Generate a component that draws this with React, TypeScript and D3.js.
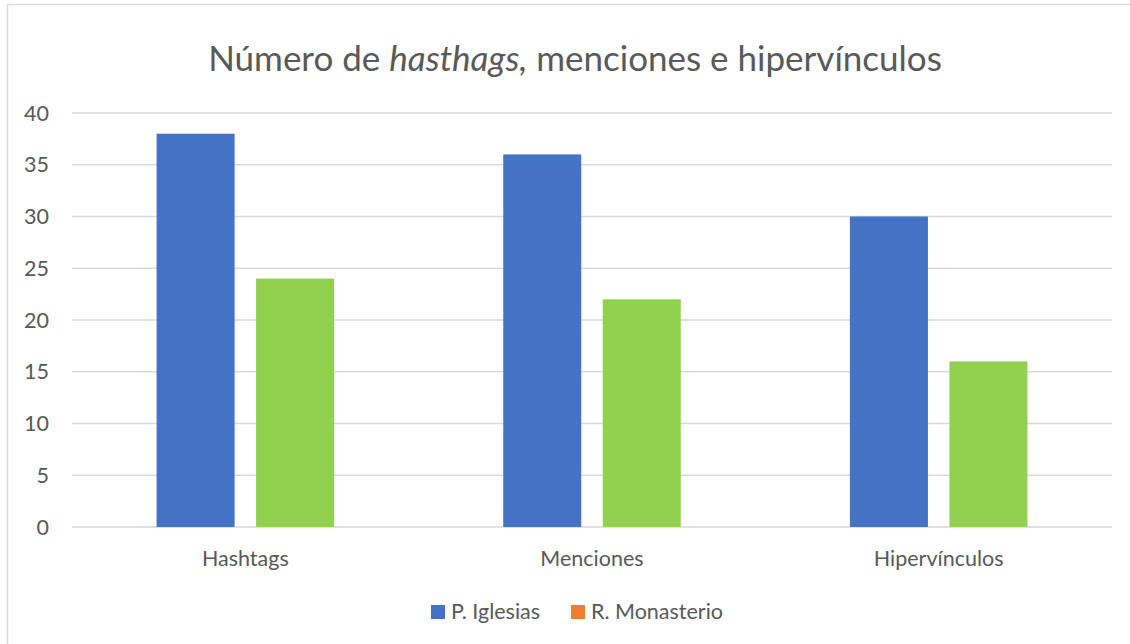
import React from "react";
import * as d3 from "d3";

const categories = ["Hashtags", "Menciones", "Hipervínculos"];
const seriesNames = ["P. Iglesias", "R. Monasterio"];
const iglesias = [38, 36, 30];
const monasterio = [24, 22, 16];
const yTicks = [0, 5, 10, 15, 20, 25, 30, 35, 40];

const W = 1130;
const H = 644;
const FONT = "Lato, 'Open Sans', sans-serif";
const TEXT = "#595959";
const barColors = ["#4472C4", "#92D050"];
const legendColors = ["#4472C4", "#ED7D31"];

export default function App() {
  const y = d3.scaleLinear().domain([0, 40]).range([527, 113]);
  const x0 = d3.scaleBand<string>().domain(categories).range([72, 1112]).paddingInner(0).paddingOuter(0);
  const x1 = d3
    .scaleBand<string>()
    .domain(seriesNames)
    .range([0, x0.bandwidth()])
    .paddingInner(0.216)
    .paddingOuter(0.85);
  const values = [iglesias, monasterio];

  return (
    <svg
      width={W}
      height={H}
      style={{ position: "fixed", left: 0, top: 0, background: "#fff" }}
      fontFamily={FONT}
    >
      <rect x={7.5} y={4.5} width={W + 20} height={H + 20} fill="#fff" stroke="#D9D9D9" strokeWidth={1.5} />
      <text x={575} y={71} textAnchor="middle" fontSize={35} fill={TEXT}>
        Número de <tspan fontStyle="italic">hasthags,</tspan> menciones e hipervínculos
      </text>
      {yTicks.map((t) => (
        <g key={t}>
          <line x1={72} x2={1112} y1={y(t)} y2={y(t)} stroke="#D9D9D9" strokeWidth={1.5} />
          <text x={49} y={y(t) + 7.5} textAnchor="end" fontSize={21.5} fill={TEXT}>
            {t}
          </text>
        </g>
      ))}
      {categories.map((c, i) => (
        <g key={c} transform={`translate(${x0(c)},0)`}>
          {seriesNames.map((s, j) => (
            <rect
              key={s}
              x={x1(s)}
              y={y(values[j][i])}
              width={x1.bandwidth()}
              height={y(0) - y(values[j][i])}
              fill={barColors[j]}
            />
          ))}
          <text x={x0.bandwidth() / 2} y={566} textAnchor="middle" fontSize={21.5} fill={TEXT}>
            {c}
          </text>
        </g>
      ))}
      <g>
        <rect x={431} y={605} width={14} height={14} fill={legendColors[0]} />
        <text x={451} y={618.5} fontSize={21.5} fill={TEXT}>
          {seriesNames[0]}
        </text>
        <rect x={571} y={605} width={14} height={14} fill={legendColors[1]} />
        <text x={591} y={618.5} fontSize={21.5} fill={TEXT}>
          {seriesNames[1]}
        </text>
      </g>
    </svg>
  );
}
